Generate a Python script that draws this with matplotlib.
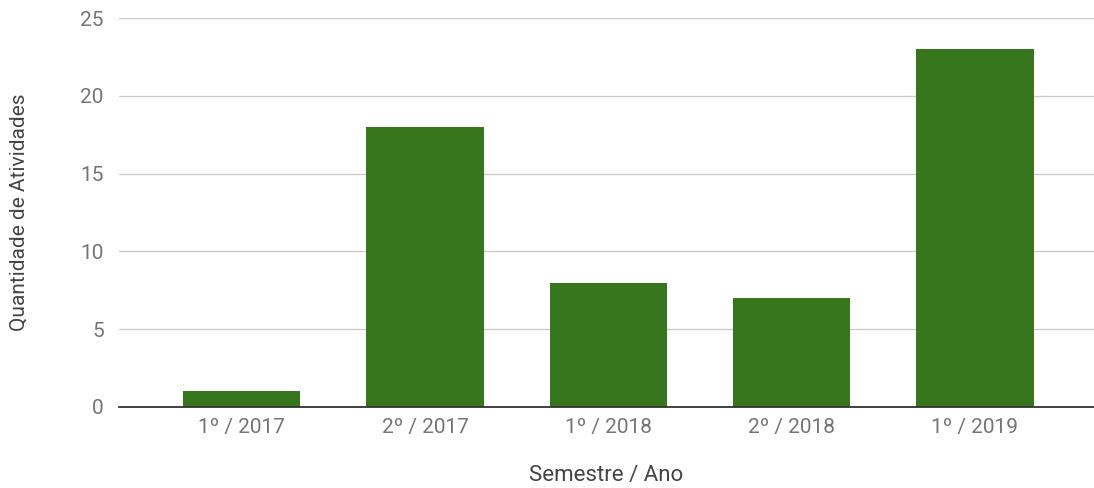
import matplotlib.pyplot as plt

semestres = ['1º / 2017', '2º / 2017', '1º / 2018', '2º / 2018', '1º / 2019']
atividades = [1, 18, 8, 7, 23]

plt.rcParams['font.family'] = ['Roboto', 'DejaVu Sans']

fig = plt.figure(figsize=(10.94, 4.88), dpi=100)
ax = fig.add_axes([0.1088, 0.166, 0.8912, 0.797])

ax.bar(range(len(semestres)), atividades, width=0.64, color='#38761d', zorder=3)

ax.set_xlim(-0.67, 4.65)
ax.set_ylim(0, 25)
ax.set_yticks([0, 5, 10, 15, 20, 25])
ax.set_xticks(range(len(semestres)))
ax.set_xticklabels(semestres, fontsize=16)

ax.grid(axis='y', color='#cccccc', linewidth=1, zorder=0)
for s in ['top', 'right', 'left']:
    ax.spines[s].set_visible(False)
ax.spines['bottom'].set_color('#333333')
ax.spines['bottom'].set_linewidth(1.3)
ax.spines['bottom'].set_zorder(4)

ax.tick_params(axis='both', length=0, labelsize=15, labelcolor='#757575')
ax.tick_params(axis='y', pad=11)
ax.tick_params(axis='x', pad=8)

ax.set_xlabel('Semestre / Ano', fontsize=16, color='#444444', labelpad=20)
ax.set_ylabel('Quantidade de Atividades', fontsize=15, color='#444444', labelpad=37)

fig.savefig('out.png', dpi=100)
